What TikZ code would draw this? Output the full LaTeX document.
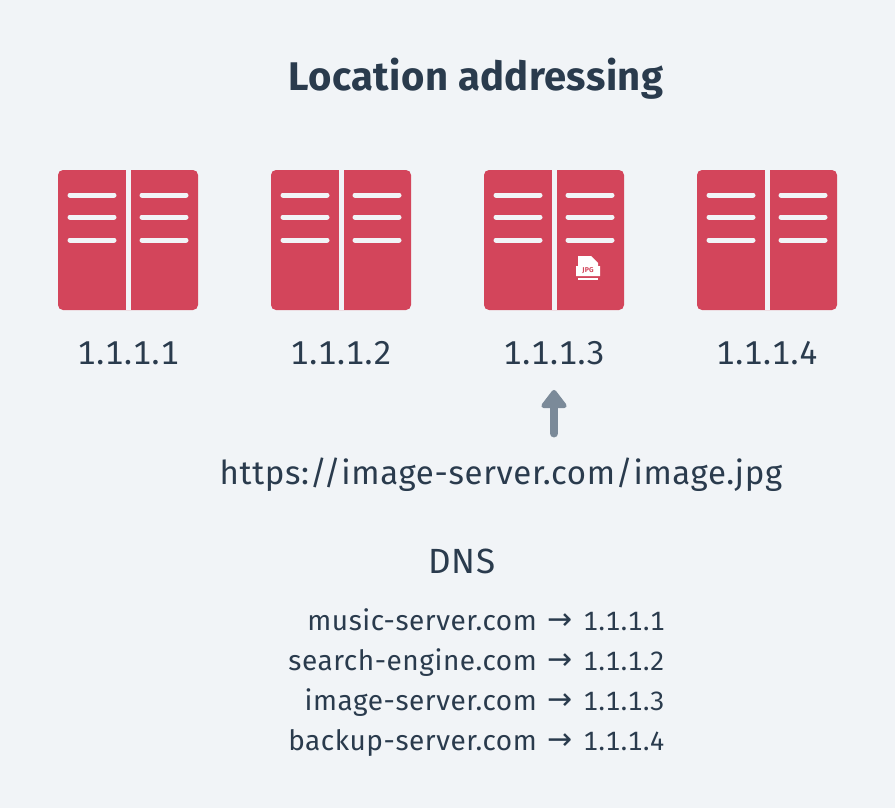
\documentclass[tikz,border=0pt]{standalone}
\usepackage{fontspec}
\setmainfont[Numbers=Monospaced,LetterSpace=2]{Fira Sans}
\newfontfamily\titlefont[LetterSpace=1]{Fira Sans}
\newfontfamily\arrowfont{DejaVu Sans}
\usetikzlibrary{arrows.meta}
\definecolor{pagebg}{HTML}{F1F4F7}
\definecolor{serverred}{HTML}{D3455B}
\definecolor{inkdark}{HTML}{2A3B4D}
\definecolor{arrowgrey}{HTML}{7B8A99}
\tikzset{
    titlelabel/.style={font=\titlefont\fontsize{40}{44}\selectfont\bfseries,text=inkdark,inner sep=0pt},
    iplabel/.style={font=\fontsize{33}{36}\selectfont,text=inkdark,inner sep=0pt},
    headlabel/.style={font=\fontsize{35}{38}\selectfont,text=inkdark,inner sep=0pt},
    dnslabel/.style={font=\fontsize{28}{32}\selectfont,text=inkdark,inner sep=0pt},
    rack/.style={fill=serverred,rounded corners=5pt},
    shelf/.style={draw=pagebg,line width=5pt,line cap=round},
    fetcharrow/.style={draw=arrowgrey,line width=8pt,line cap=round,-{Triangle[length=20pt,width=29pt,round]}},
}
\begin{document}
\begin{tikzpicture}[x=1pt,y=-1pt]
    % page
    \fill[pagebg] (0,0) rectangle (895,808);
    \useasboundingbox (0,0) rectangle (895,808);
    \node[titlelabel] (title) at (476,79) {Location addressing};
    % servers
    \foreach \n/\x/\ip in {1/58/1.1.1.1, 2/271/1.1.1.2, 3/484/1.1.1.3, 4/697/1.1.1.4} {
        \fill[rack] (\x,170) rectangle +(140,140);
        \fill[pagebg] (\x+67.5,170) rectangle +(5,140);
        \foreach \y in {195,217,240} {
            \draw[shelf] (\x+12,\y) -- (\x+56,\y);
            \draw[shelf] (\x+84,\y) -- (\x+128,\y);
        }
        \node[iplabel] (ip\n) at (\x+70,353) {\ip};
    }
    % jpg file
    \fill[white] (578,256) -- (591,256) -- (598,263) -- (598,266) -- (600,266) -- (600,276) -- (576,276) -- (576,266) -- (578,266) -- cycle;
    \fill[white] (578,277.5) rectangle (598,280);
    \node[inner sep=0pt,text=serverred,font=\fontsize{7}{7}\selectfont\bfseries] (jpgtag) at (588,271) {JPG};
    % url
    \node[iplabel] (url) at (501,474.5) {https://image-server.com/image.jpg};
    \path[fetcharrow,shorten >=25pt,shorten <=24pt] (url.north -| ip3.south) -- (ip3.south);
    % dns
    \node[headlabel] (dns) at (462,561) {DNS};
    \foreach \y/\host/\ip in {620/music-server.com/1.1.1.1, 660/search-engine.com/1.1.1.2, 700/image-server.com/1.1.1.3, 740/backup-server.com/1.1.1.4} {
        \node[dnslabel,anchor=base east] (host\y) at (537,\y+10) {\host};
        \node[dnslabel,font=\arrowfont\fontsize{30}{32}\selectfont,anchor=base] (sep\y) at (560,\y+9) {→};
        \node[dnslabel,font=\fontsize{26.5}{30}\selectfont,anchor=base west] (addr\y) at (583,\y+10) {\ip};
    }
\end{tikzpicture}
\end{document}
